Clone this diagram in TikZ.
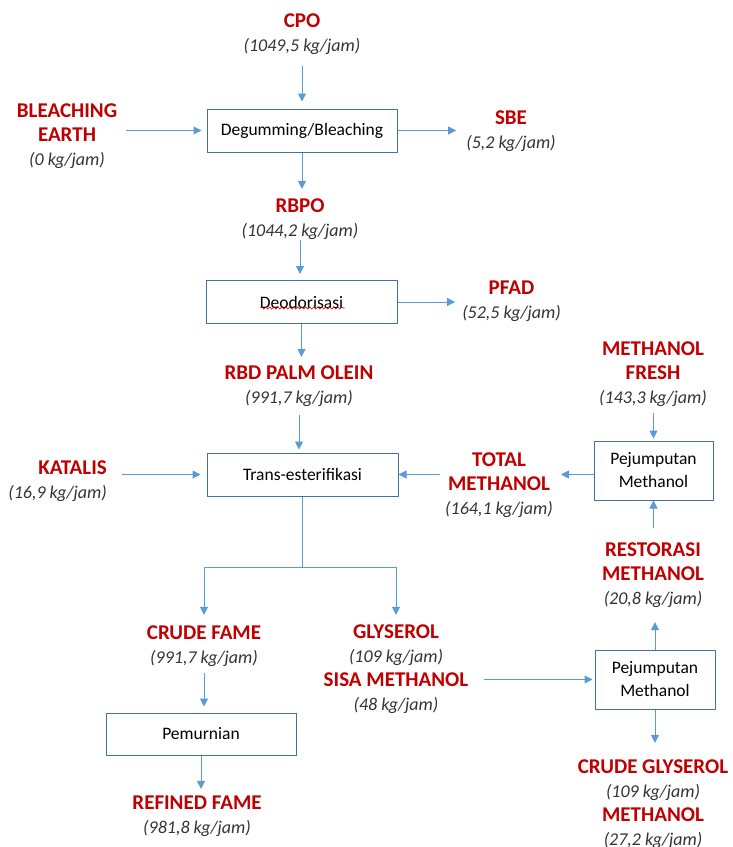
\documentclass[tikz,border=0pt]{standalone}
\usepackage{fontspec}
\setmainfont{Carlito}
\usetikzlibrary{arrows.meta,decorations.pathmorphing}
\definecolor{lblred}{HTML}{C00000}
\definecolor{flowblue}{HTML}{5B9BD5}
\definecolor{boxblue}{HTML}{41719C}
\newcommand{\nm}[1]{{\color{lblred}\fontsize{21}{24}\selectfont\bfseries #1}}
\newcommand{\kg}[1]{{\fontsize{18}{24}\selectfont\itshape(#1 kg/jam)}}
\tikzset{
	proses/.style={draw=boxblue,line width=1pt,inner sep=0pt,minimum height=43pt,align=center,
		font=\fontsize{17.5}{23}\selectfont,text=black},
	aliran/.style={draw=flowblue,line width=1pt,-{Triangle[width=8pt,length=8pt]}},
	ket/.style={align=center,inner sep=0pt,font=\fontsize{21}{24}\selectfont,text=black!80}
}
\begin{document}
\begin{tikzpicture}[x=1pt,y=-1pt,line join=round]
	\useasboundingbox (0,0) rectangle (732,847);
	% unit proses
	\node[proses,minimum width=190pt] (deg) at (302,130.5) {Degumming/Bleaching};
	\node[proses,minimum width=191pt] (deo) at (301.5,302) {Deodorisasi};
	\node[proses,minimum width=191pt] (tra) at (302.5,474.5) {Trans-esterifikasi};
	\node[proses,minimum width=119pt,minimum height=59pt] (pj1) at (653.5,470.5) {Pejumputan\\Methanol};
	\node[proses,minimum width=120pt,minimum height=59pt] (pj2) at (655,679.5) {Pejumputan\\Methanol};
	\node[proses,minimum width=190pt,minimum height=42pt] (pem) at (201,734) {Pemurnian};
	\draw[lblred,line width=.6pt,decorate,decoration={snake,amplitude=1.1pt,segment length=4pt}]
		([shift={(-41,6)}]deo.center)--([shift={(43,6)}]deo.center);
	% aliran bahan
	\node[ket] (cpo) at (302,34.5) {\nm{CPO}\\\kg{1049,5}};
	\node[ket] (be) at (67,136.5) {\nm{BLEACHING}\\\nm{EARTH}\\\kg{0}};
	\node[ket] (sbe) at (511,131) {\nm{SBE}\\\kg{5,2}};
	\node[ket] (rbpo) at (300,219.5) {\nm{RBPO}\\\kg{1044,2}};
	\node[ket] (pfad) at (511.5,301.5) {\nm{PFAD}\\\kg{52,5}};
	\node[ket] (rbd) at (299,386) {\nm{RBD PALM OLEIN}\\\kg{991,7}};
	\node[ket] (mf) at (653,374.5) {\nm{METHANOL}\\\nm{FRESH}\\\kg{143,3}};
	\node[ket,align=right,anchor=east] (kat) at (107,481) {\nm{KATALIS}\\\kg{16,9}};
	\node[ket] (tm) at (499,485) {\nm{TOTAL}\\\nm{METHANOL}\\\kg{164,1}};
	\node[ket] (rm) at (653,575) {\nm{RESTORASI}\\\nm{METHANOL}\\\kg{20,8}};
	\node[ket] (cf) at (204,646) {\nm{CRUDE FAME}\\\kg{991,7}};
	\node[ket] (gly) at (396,669) {\nm{GLYSEROL}\\\kg{109}\\\nm{SISA METHANOL}\\\kg{48}};
	\node[ket] (cg) at (653,804.5) {\nm{CRUDE GLYSEROL}\\\kg{109}\\\nm{METHANOL}\\\kg{27,2}};
	\node[ket] (rf) at (197,816) {\nm{REFINED FAME}\\\kg{981,8}};
	\path (tra.south) ++(0,71) coordinate (pisah);
	% panah
	\draw[aliran,shorten <=11pt,shorten >=7pt] (cpo.south)--(cpo.south|-deg.north);
	\draw[aliran,shorten <=9pt,shorten >=5pt] (be.east|-deg)--(deg.west);
	\draw[aliran,shorten >=10pt] (deg.east)--(deg.east-|sbe.west);
	\draw[aliran,shorten >=10pt] (deg.south)--(deg.south|-rbpo.north);
	\draw[aliran,shorten >=6pt] (rbpo.south)--(rbpo.south|-deo.north);
	\draw[aliran,shorten >=7pt] (deo.east)--(deo.east-|pfad.west);
	\draw[aliran,shorten >=8.5pt] (deo.south)--(deo.south|-rbd.north);
	\draw[aliran,shorten <=8.5pt,shorten >=3pt] (rbd.south)--(rbd.south|-tra.north);
	\draw[aliran,shorten <=15pt,shorten >=6pt] (kat.east|-tra)--(tra.west);
	\draw[aliran,shorten <=5pt] (tm.west|-tra)--(tra.east);
	\draw[aliran,shorten >=8pt] (pj1.west|-tra)--(tm.east|-tra);
	\draw[aliran,shorten <=6pt,shorten >=2pt] (pj1.north|-mf.south)--(pj1.north);
	\draw[aliran,shorten <=14.5pt] (pj1.south|-rm.north)--(pj1.south);
	\draw[aliran,shorten >=14.5pt] (pj2.north)--(pj2.north|-rm.south);
	\draw[aliran,shorten <=16pt,shorten >=2pt] (gly.east|-pj2)--(pj2.west);
	\draw[aliran,shorten >=17pt] (pj2.south)--(pj2.south|-cg.north);
	\draw[flowblue,line width=1pt] (tra.south)--(pisah);
	\draw[aliran,shorten >=10.5pt] (pisah)-|(cf.north);
	\draw[aliran,shorten >=9.5pt] (pisah)-|(gly.north);
	\draw[aliran,shorten <=6.5pt,shorten >=6pt] (cf.south)--(cf.south|-pem.north);
	\draw[aliran,shorten >=6.5pt] (pem.south)--(pem.south|-rf.north);
\end{tikzpicture}
\end{document}
